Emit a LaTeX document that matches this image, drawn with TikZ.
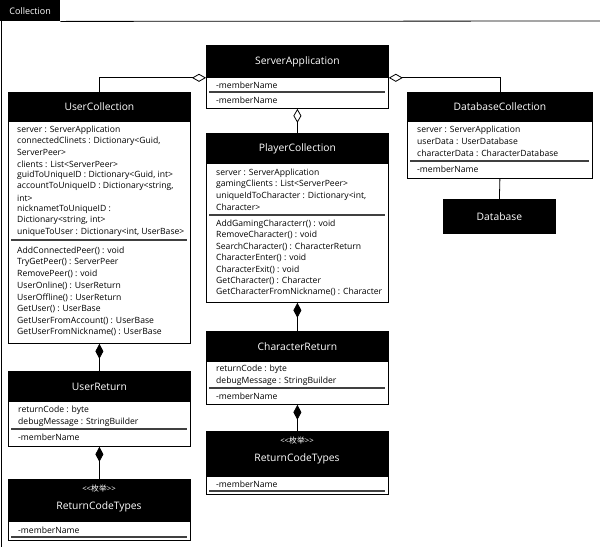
\documentclass[tikz,border=0pt]{standalone}
\usepackage{fontspec}
\setmainfont{Open Sans}
\newfontfamily\cjkfont{Noto Sans CJK SC}
\usetikzlibrary{arrows.meta}
\tikzset{
  hdr/.style={fill=black,draw=black,line width=0.8pt,text=white,font=\fontsize{10.3}{12}\selectfont,inner sep=0pt,anchor=north west,align=center},
  bodybox/.style={fill=white,draw=black,line width=0.8pt,inner sep=0pt,anchor=north west},
  row/.style={anchor=west,inner sep=0pt,font=\fontsize{8.6}{10}\selectfont},
  stereo/.style={text=white,inner sep=0pt,font=\fontsize{7.8}{9}\selectfont},
  sepline/.style={draw=black!75,line width=1.7pt},
  conn/.style={draw=black,line width=0.8pt},
  odia/.style={{Diamond[open,fill=white,length=14pt,width=8pt]}-},
  fdia/.style={{Diamond[length=15pt,width=8pt]}-},
}
\begin{document}
\begin{tikzpicture}[x=1pt,y=-1pt]
\useasboundingbox (0,0) rectangle (600,547);
% frame
\node[fill=black,text=white,inner sep=0pt,minimum width=60pt,minimum height=21pt,anchor=north west,font=\fontsize{9}{10}\selectfont] (tab) at (0,0) {Collection};
\draw[conn] (tab.south east) -- (600,21);
\draw[conn] (1,21) -- (1,547);

% ServerApplication
\node[hdr,minimum width=182pt,minimum height=32pt] (sa-h) at (206,45) {ServerApplication};
\node[bodybox,minimum width=182pt,minimum height=31pt] (sa-b) at (206,77) {};
\node[row] (sa-a1) at (216,85) {-memberName};
\draw[sepline] (209,92) -- (385,92);
\node[row] (sa-o1) at (216,100) {-memberName};

% PlayerCollection
\node[hdr,minimum width=182pt,minimum height=30pt] (pc-h) at (206,133) {PlayerCollection};
\node[bodybox,minimum width=182pt,minimum height=139pt] (pc-b) at (206,163) {};
\foreach \t [count=\i] in {server : ServerApplication,gamingClients : List<ServerPeer>,{uniqueIdToCharacter : Dictionary<int,},Character>}
  \node[row] (pc-a\i) at (216,{173+(\i-1)*11.4}) {\t};
\draw[sepline] (209,215) -- (385,215);
\foreach \t [count=\i] in {AddGamingCharacterr() : void,RemoveCharacter() : void,SearchCharacter() : CharacterReturn,CharacterEnter() : void,CharacterExit() : void,GetCharacter() : Character,GetCharacterFromNickname() : Character}
  \node[row] (pc-o\i) at (216,{224+(\i-1)*11.4}) {\t};

% CharacterReturn
\node[hdr,minimum width=182pt,minimum height=30pt] (cr-h) at (206,331) {CharacterReturn};
\node[bodybox,minimum width=182pt,minimum height=43pt] (cr-b) at (206,361) {};
\node[row] (cr-a1) at (216,369) {returnCode : byte};
\node[row] (cr-a2) at (216,381) {debugMessage : StringBuilder};
\draw[sepline] (209,388) -- (385,388);
\node[row] (cr-o1) at (216,396) {-memberName};

% ReturnCodeTypes (middle)
\node[hdr,minimum width=182pt,minimum height=45pt] (rm-h) at (206,431) {};
\node[stereo] (rm-s) at (297,441) {<{}<{\cjkfont 枚举}>{}>};
\node[text=white,inner sep=0pt,font=\fontsize{10.3}{12}\selectfont] (rm-n) at (297,459) {ReturnCodeTypes};
\node[bodybox,minimum width=182pt,minimum height=18pt] (rm-b) at (206,476) {};
\node[row] (rm-a1) at (216,484) {-memberName};
\draw[sepline] (209,491) -- (385,491);

% UserCollection
\node[hdr,minimum width=182pt,minimum height=29pt] (uc-h) at (8,92) {UserCollection};
\node[bodybox,minimum width=182pt,minimum height=222pt] (uc-b) at (8,121) {};
\foreach \t [count=\i] in {server : ServerApplication,{connectedClinets : Dictionary<Guid,},ServerPeer>,clients : List<ServerPeer>,{guidToUniqueID : Dictionary<Guid, int>},{accountToUniqueID : Dictionary<string,},int>,nicknametToUniqueID :,{Dictionary<string, int>},{uniqueToUser : Dictionary<int, UserBase>}}
  \node[row] (uc-a\i) at (17,{130+(\i-1)*11.35}) {\t};
\draw[sepline] (11,240) -- (187,240);
\foreach \t [count=\i] in {AddConnectedPeer() : void,TryGetPeer() : ServerPeer,RemovePeer() : void,UserOnline() : UserReturn,UserOffline() : UserReturn,GetUser() : UserBase,GetUserFromAccount() : UserBase,GetUserFromNickname() : UserBase}
  \node[row] (uc-o\i) at (17,{251+(\i-1)*11.6}) {\t};

% UserReturn
\node[hdr,minimum width=182pt,minimum height=30pt] (ur-h) at (8,371) {UserReturn};
\node[bodybox,minimum width=182pt,minimum height=45pt] (ur-b) at (8,401) {};
\node[row] (ur-a1) at (18,410) {returnCode : byte};
\node[row] (ur-a2) at (18,422) {debugMessage : StringBuilder};
\draw[sepline] (11,429) -- (187,429);
\node[row] (ur-o1) at (18,437) {-memberName};

% ReturnCodeTypes (left)
\node[hdr,minimum width=182pt,minimum height=42pt] (rl-h) at (8,479) {};
\node[stereo] (rl-s) at (99,489) {<{}<{\cjkfont 枚举}>{}>};
\node[text=white,inner sep=0pt,font=\fontsize{10.3}{12}\selectfont] (rl-n) at (99,507) {ReturnCodeTypes};
\node[bodybox,minimum width=182pt,minimum height=19pt] (rl-b) at (8,521) {};
\node[row] (rl-a1) at (18,530) {-memberName};
\draw[sepline] (11,537) -- (187,537);

% DatabaseCollection
\node[hdr,minimum width=185pt,minimum height=29pt] (dc-h) at (407,92) {DatabaseCollection};
\node[bodybox,minimum width=185pt,minimum height=57pt] (dc-b) at (407,121) {};
\node[row] (dc-a1) at (417,130) {server : ServerApplication};
\node[row] (dc-a2) at (417,141.5) {userData : UserDatabase};
\node[row] (dc-a3) at (417,153) {characterData : CharacterDatabase};
\draw[sepline] (410,161) -- (589,161);
\node[row] (dc-o1) at (417,169) {-memberName};

% Database
\node[hdr,minimum width=112pt,minimum height=34pt] (db) at (443,199) {Database};

% connectors
\draw[conn,odia] (sa-h.south west) -| (uc-h.north);
\draw[conn,odia] (sa-h.south east) -| (dc-h.north);
\draw[conn,odia] (sa-b.south) -- (pc-h.north);
\draw[conn,fdia] (pc-b.south) -- (cr-h.north);
\draw[conn,fdia] (cr-b.south) -- (rm-h.north);
\draw[conn,fdia] (uc-b.south) -- (ur-h.north);
\draw[conn,fdia] (ur-b.south) -- (rl-h.north);
\draw[conn] (dc-b.south) -- (db.north);
\end{tikzpicture}
\end{document}
